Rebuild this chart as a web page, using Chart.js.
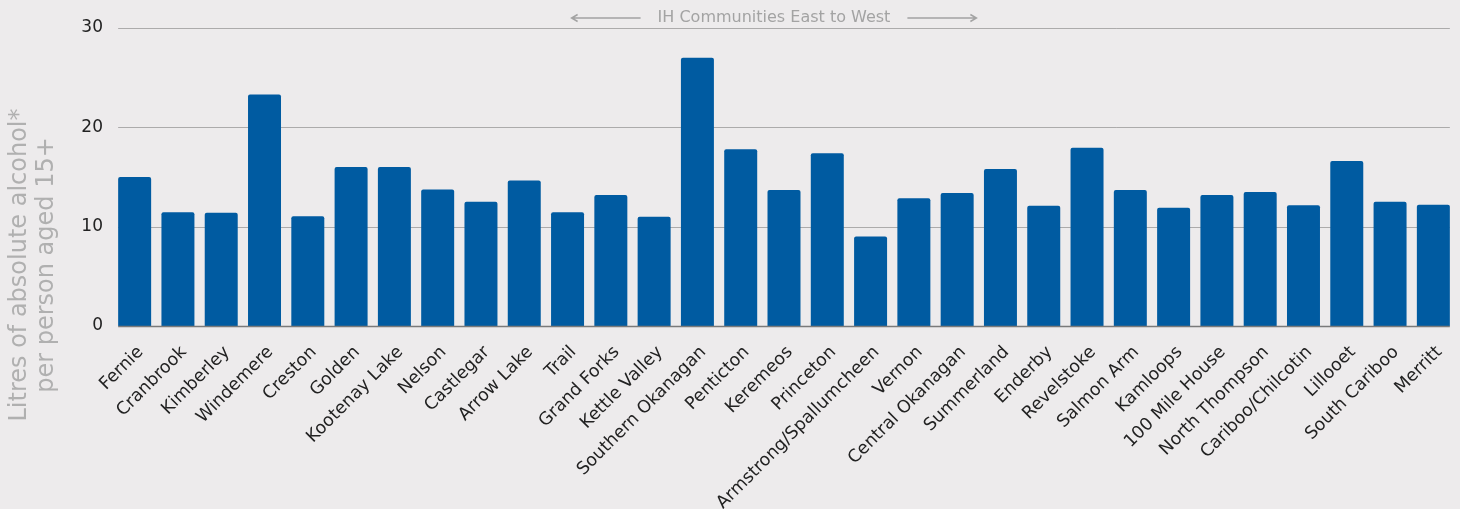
<!DOCTYPE html>
<html>
<head>
<meta charset="utf-8">
<script src="https://cdn.jsdelivr.net/npm/chart.js@4"></script>
<style>
  html, body { margin: 0; padding: 0; background: #edebec; }
  #wrap { width: 1460px; height: 509px; position: relative; }
</style>
</head>
<body>
<div id="wrap"><canvas id="chartAlcohol"></canvas></div>
<script>
// Comunidades (este a oeste) y litros por persona
const comunidades = [
  "Fernie", "Cranbrook", "Kimberley", "Windemere", "Creston", "Golden",
  "Kootenay Lake", "Nelson", "Castlegar", "Arrow Lake", "Trail", "Grand Forks",
  "Kettle Valley", "Southern Okanagan", "Penticton", "Keremeos", "Princeton",
  "Armstrong/Spallumcheen", "Vernon", "Central Okanagan", "Summerland", "Enderby",
  "Revelstoke", "Salmon Arm", "Kamloops", "100 Mile House", "North Thompson",
  "Cariboo/Chilcotin", "Lillooet", "South Cariboo", "Merritt"
];
const litros = [
  15.0, 11.45, 11.4, 23.3, 11.05, 16.0,
  16.0, 13.75, 12.5, 14.65, 11.45, 13.2,
  11.0, 27.0, 17.8, 13.7, 17.4,
  9.0, 12.85, 13.4, 15.8, 12.1,
  17.95, 13.7, 11.9, 13.2, 13.5,
  12.15, 16.6, 12.5, 12.2
];
const ticksY = [0, 10, 20, 30];
const tituloY = ["Litres of absolute alcohol*", "per person aged 15+"];
const tituloArriba = "IH Communities East to West";

const fuente = "'DejaVu Sans', sans-serif";

// Líneas de guía solo del ancho de las barras
const guiaPlugin = {
  id: 'guias',
  beforeDatasetsDraw(chart) {
    const meta = chart.getDatasetMeta(0);
    const primera = meta.data[0];
    const ultima = meta.data[meta.data.length - 1];
    const x0 = primera.x - primera.width / 2;
    const x1 = ultima.x + ultima.width / 2;
    const ctx = chart.ctx;
    ctx.save();
    ctx.lineWidth = 1;
    ctx.strokeStyle = '#acabab';
    ticksY.forEach(v => {
      if (v === 0) return;
      const y = Math.round(chart.scales.y.getPixelForValue(v)) + 0.5;
      ctx.beginPath();
      ctx.moveTo(x0, y);
      ctx.lineTo(x1, y);
      ctx.stroke();
    });
    ctx.restore();
  },
  afterDatasetsDraw(chart) {
    const meta = chart.getDatasetMeta(0);
    const primera = meta.data[0];
    const ultima = meta.data[meta.data.length - 1];
    const x0 = primera.x - primera.width / 2;
    const x1 = ultima.x + ultima.width / 2;
    const y = Math.round(chart.scales.y.getPixelForValue(0)) + 0.5;
    const ctx = chart.ctx;
    ctx.save();
    ctx.lineWidth = 1.5;
    ctx.strokeStyle = '#7a7a7a';
    ctx.beginPath();
    ctx.moveTo(x0, y);
    ctx.lineTo(x1, y);
    ctx.stroke();
    ctx.restore();
  },
  afterDraw(chart) {
    const ctx = chart.ctx;
    const area = chart.chartArea;
    ctx.save();

    // Título del eje Y en dos líneas
    ctx.fillStyle = '#b0b0b0';
    ctx.font = "24px " + fuente;
    ctx.textAlign = 'center';
    ctx.textBaseline = 'middle';
    const cy = 265;
    [20, 47].forEach((x, i) => {
      ctx.save();
      ctx.translate(x, cy);
      ctx.rotate(-Math.PI / 2);
      ctx.fillText(tituloY[i], 0, 0);
      ctx.restore();
    });

    // Anotación superior con flechas
    const cx = (area.left + area.right) / 2 - 10;
    const ty = 18;
    ctx.font = "16px " + fuente;
    ctx.fillStyle = '#a3a3a3';
    ctx.fillText(tituloArriba, cx, ty);
    const mitad = ctx.measureText(tituloArriba).width / 2;
    ctx.strokeStyle = '#a3a3a3';
    ctx.lineWidth = 1.5;
    const flecha = (xa, xb) => {
      ctx.beginPath();
      ctx.moveTo(xa, ty);
      ctx.lineTo(xb, ty);
      const dir = xb > xa ? 1 : -1;
      ctx.moveTo(xb - dir * 6, ty - 3.5);
      ctx.lineTo(xb, ty);
      ctx.lineTo(xb - dir * 6, ty + 3.5);
      ctx.stroke();
    };
    flecha(cx - mitad - 17, cx - mitad - 86);
    flecha(cx + mitad + 17, cx + mitad + 86);
    ctx.restore();
  }
};

new Chart(document.getElementById('chartAlcohol'), {
  type: 'bar',
  data: {
    labels: comunidades,
    datasets: [{
      data: litros,
      backgroundColor: '#005ba1',
      borderRadius: 2,
      borderSkipped: 'bottom',
      categoryPercentage: 1,
      barPercentage: 0.762
    }]
  },
  options: {
    responsive: true,
    maintainAspectRatio: false,
    animation: false,
    layout: { padding: { top: 28, right: 5, left: 0, bottom: 0 } },
    plugins: {
      legend: { display: false },
      tooltip: { enabled: false }
    },
    scales: {
      x: {
        grid: { display: false },
        border: { display: false },
        ticks: {
          autoSkip: false,
          minRotation: 45,
          maxRotation: 45,
          color: '#222',
          padding: 8,
          labelOffset: 6,
          font: { family: fuente, size: 17.5 }
        },
        afterFit(s) { s.height = 183; }
      },
      y: {
        min: 0,
        max: 30,
        grid: { display: false },
        border: { display: false },
        afterBuildTicks(s) { s.ticks = ticksY.map(v => ({ value: v })); },
        ticks: {
          color: '#222',
          padding: 2,
          font: { family: fuente, size: 17 }
        },
        afterFit(s) { s.width = 113; }
      }
    }
  },
  plugins: [guiaPlugin]
});
</script>
</body>
</html>
